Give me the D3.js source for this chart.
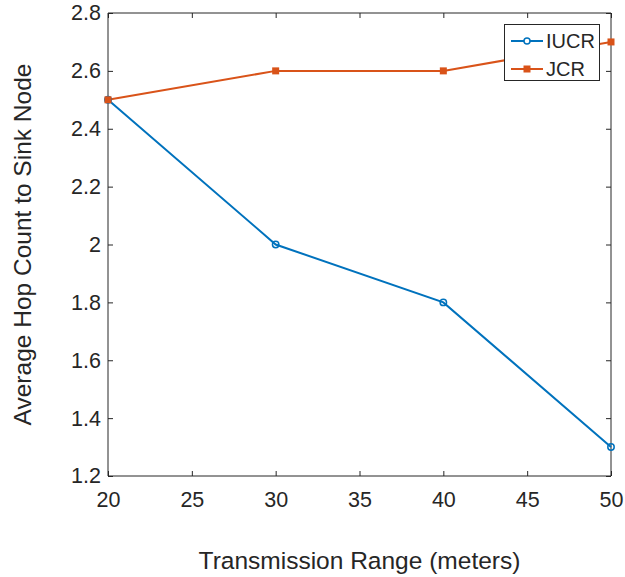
<!DOCTYPE html>
<html><head><meta charset="utf-8">
<script src="https://cdn.jsdelivr.net/npm/d3@7"></script>
<style>body{margin:0;background:#fff}svg{display:block;font-family:"Liberation Sans",Arial,sans-serif}</style>
</head><body><svg id="c" width="625" height="577"></svg>
<script>
const ranges = [20, 30, 40, 50];
const iucr = [2.5, 2.0, 1.8, 1.3];
const jcr = [2.5, 2.6, 2.6, 2.7];
const xTicks = [20, 25, 30, 35, 40, 45, 50];
const yTicks = [1.2, 1.4, 1.6, 1.8, 2.0, 2.2, 2.4, 2.6, 2.8];
const seriesNames = ["IUCR", "JCR"];
const colors = ["#0072BD", "#D95319"];

const svg = d3.select("#c");
const L = 108, R = 611, T = 13, B = 476;
const x = d3.scaleLinear().domain([20, 50]).range([L, R]);
const y = d3.scaleLinear().domain([1.2, 2.8]).range([B, T]);
const txt = "#262626", ax = "#262626";

const gx = svg.append("g").attr("transform", `translate(0,${B})`)
  .call(d3.axisBottom(x).tickValues(xTicks).tickSize(-5).tickPadding(16).tickFormat(d3.format("d")));
const gxt = svg.append("g").attr("transform", `translate(0,${T})`)
  .call(d3.axisTop(x).tickValues(xTicks).tickSize(-5).tickFormat(""));
const gy = svg.append("g").attr("transform", `translate(${L},0)`)
  .call(d3.axisLeft(y).tickValues(yTicks).tickSize(-5).tickPadding(7).tickFormat(d => d3.format("")(+d.toFixed(1))));
const gyr = svg.append("g").attr("transform", `translate(${R},0)`)
  .call(d3.axisRight(y).tickValues(yTicks).tickSize(-5).tickFormat(""));
[gx, gxt, gy, gyr].forEach(g => {
  g.selectAll(".domain").attr("stroke", ax).attr("stroke-width", 1);
  g.selectAll(".tick line").attr("stroke", ax);
});
gx.select(".domain").attr("d", `M${L},0H${R}`);
gxt.select(".domain").attr("d", `M${L},0H${R}`);
gy.select(".domain").attr("d", `M0,${T}V${B}`);
gyr.select(".domain").attr("d", `M0,${T}V${B}`);
[gx, gy].forEach(g => g.selectAll(".tick text").attr("font-size", 21.5).attr("fill", txt)
  .attr("font-family", "Liberation Sans, Arial, sans-serif"));

const data = [iucr, jcr];
const line = d3.line().x((d, i) => x(ranges[i])).y(d => y(d));
data.forEach((s, k) => {
  svg.append("path").datum(s).attr("d", line).attr("fill", "none")
    .attr("stroke", colors[k]).attr("stroke-width", 2);
});
svg.selectAll(".m0").data(iucr).join("circle")
  .attr("cx", (d, i) => x(ranges[i])).attr("cy", d => y(d)).attr("r", 3.2)
  .attr("fill", "none").attr("stroke", colors[0]).attr("stroke-width", 1.5);
svg.selectAll(".m1").data(jcr).join("rect")
  .attr("x", (d, i) => x(ranges[i]) - 3.5).attr("y", d => y(d) - 3.5)
  .attr("width", 7).attr("height", 7).attr("fill", colors[1]);

const lg = svg.append("g");
lg.append("rect").attr("x", 504.5).attr("y", 24.5).attr("width", 95).attr("height", 56)
  .attr("fill", "#fff").attr("stroke", ax).attr("stroke-width", 1);
seriesNames.forEach((n, k) => {
  const yy = 41 + k * 28;
  lg.append("line").attr("x1", 511).attr("x2", 543).attr("y1", yy).attr("y2", yy)
    .attr("stroke", colors[k]).attr("stroke-width", 2);
  if (k === 0) lg.append("circle").attr("cx", 527).attr("cy", yy).attr("r", 3)
    .attr("fill", "#fff").attr("stroke", colors[k]).attr("stroke-width", 1.5);
  else lg.append("rect").attr("x", 523.5).attr("y", yy - 3.5).attr("width", 7).attr("height", 7).attr("fill", colors[k]);
  lg.append("text").attr("x", 546).attr("y", yy + 7).attr("font-size", 20).attr("fill", txt).text(n);
});

svg.append("text").attr("x", (L + R) / 2).attr("y", 569).attr("text-anchor", "middle")
  .attr("font-size", 24.5).attr("fill", txt).text("Transmission Range (meters)");
svg.append("text").attr("transform", `translate(31,${(T + B) / 2}) rotate(-90)`).attr("text-anchor", "middle")
  .attr("font-size", 24.5).attr("fill", txt).text("Average Hop Count to Sink Node");
</script></body></html>
